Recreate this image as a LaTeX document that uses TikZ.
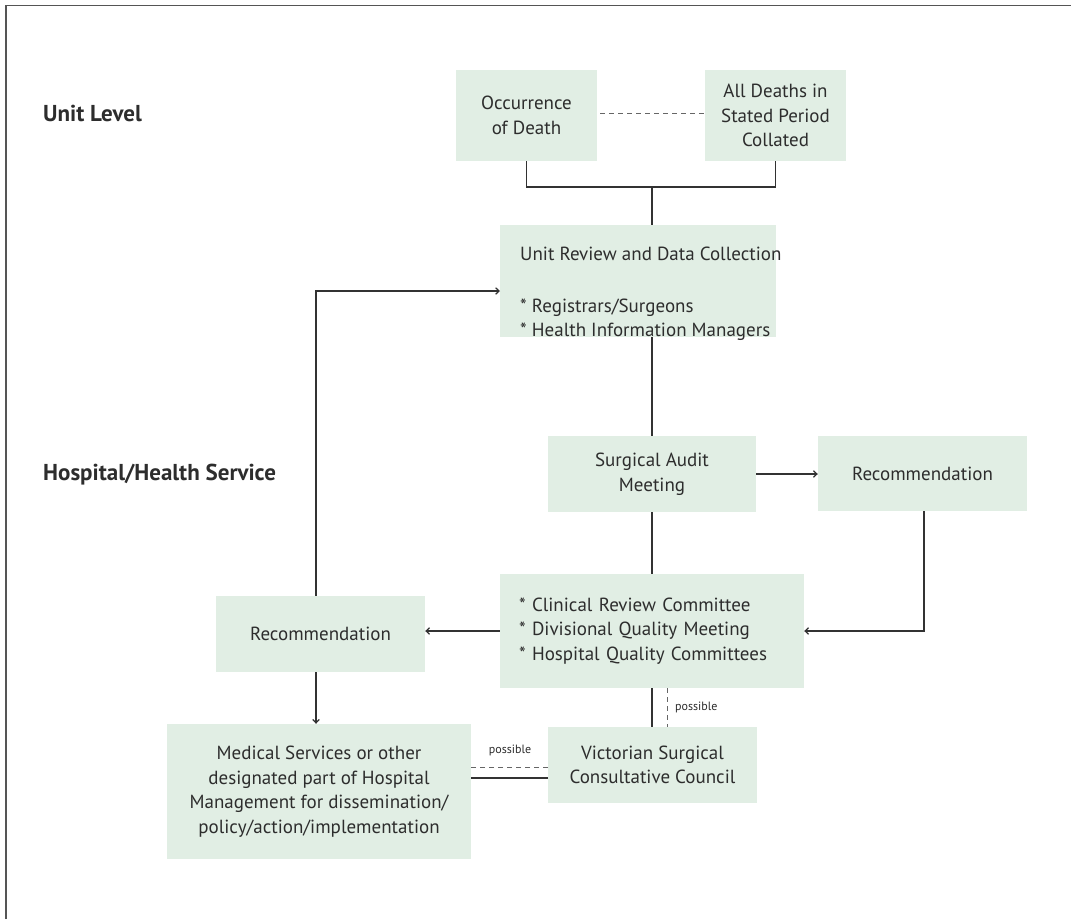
\documentclass[tikz,border=0pt]{standalone}
\usepackage{fontspec}
\setmainfont{PT Sans}
\usetikzlibrary{arrows.meta}
\definecolor{boxfill}{RGB}{225,238,228}
\definecolor{ink}{RGB}{45,45,45}
\definecolor{linec}{RGB}{50,50,50}
\definecolor{framec}{RGB}{85,85,85}
\begin{document}
\begin{tikzpicture}[x=1pt,y=-1pt,
  box/.style={fill=boxfill, draw=none, text=ink, align=center, inner sep=0pt,
    font=\fontsize{19}{24.5}\selectfont},
  conn/.style={draw=linec, line width=1.3pt},
  dconn/.style={draw=framec!90, line width=1pt, dash pattern=on 5pt off 4pt},
  arr/.style={conn, -{Straight Barb[length=3.5pt,width=6.5pt,line width=1.2pt]}},
  lvl/.style={anchor=base west, text=ink, font=\fontsize{23}{27}\selectfont\bfseries, inner sep=0pt},
  small/.style={text=ink, font=\fontsize{12}{14}\selectfont, inner sep=0pt}
]
\useasboundingbox (0,0) rectangle (1071,919);
\fill[white] (0,0) rectangle (1071,919);
% frame
\draw[framec, line width=1.6pt] (6,919) -- (6,5.5) -- (1071,5.5);

% level labels
\node[lvl] (ul) at (43,121) {Unit Level};
\node[lvl] (hl) at (43,480) {Hospital/Health Service};

% boxes
\node[box, minimum width=141, minimum height=91] (occ) at (526.5,115.5) {Occurrence\\of Death};
\node[box, minimum width=141, minimum height=91] (alld) at (775.5,115.5) {All Deaths in\\Stated Period\\Collated};
\node[box, minimum width=276, minimum height=112] (unit) at (638,281) {};
\node[anchor=north west, text=ink, align=left, inner sep=0pt,
  font=\fontsize{19}{24.5}\selectfont] (unittxt) at (520,247)
  {Unit Review and Data Collection\\[27pt]* Registrars/Surgeons\\{}* Health Information Managers};
\node[box, minimum width=208, minimum height=76] (audit) at (652,474) {Surgical Audit\\Meeting};
\node[box, minimum width=209, minimum height=75] (recR) at (922.5,473.5) {Recommendation};
\node[box, minimum width=304, minimum height=114, text width=266, align=left, inner xsep=19pt] (clin) at (652,631)
  {* Clinical Review Committee\\{}* Divisional Quality Meeting\\{}* Hospital Quality Committees};
\node[box, minimum width=209, minimum height=76] (recL) at (320.5,634) {Recommendation};
\node[box, minimum width=304, minimum height=135] (med) at (319,791.5)
  {Medical Services or other\\designated part of Hospital\\Management for dissemination/\\policy/action/implementation};
\node[box, minimum width=209, minimum height=76] (vic) at (652.5,765) {Victorian Surgical\\Consultative Council};

% connectors
\draw[dconn] ([yshift=2.5pt,xshift=3pt]occ.east) -- ([yshift=2.5pt]alld.west);
\coordinate (j) at (652,187);
\draw[conn] (occ.south) |- (j) -| (alld.south);
\draw[conn] (j) -- (j |- unit.north);
\draw[conn] (unit.south -| audit.north) -- (audit.north);
\draw[arr] (audit.east) -- (audit.east -| recR.west);
\draw[arr] ([xshift=1.5pt]recR.south) |- (clin.east);
\draw[conn] (audit.south) -- (clin.north);
\draw[arr] (clin.west) -- (clin.west -| recL.east);
\coordinate (ua) at (500,291);
\draw[arr] ([xshift=-4.5pt]recL.north) |- (ua);
\draw[arr] ([xshift=-4.5pt]recL.south) -- ([xshift=-4.5pt]recL.south |- med.north);
\draw[conn] (clin.south) -- (clin.south |- vic.north);
\draw[dconn] ([xshift=15pt]clin.south) -- ([xshift=15pt]clin.south |- vic.north);
\node[small, anchor=west] (p1) at (675,707) {possible};
\coordinate (vs) at (548,778);
\coordinate (vd) at (548,767);
\draw[conn] (vs) -- (vs -| med.east);
\draw[dconn] (vd) -- (vd -| med.east);
\node[small] (p2) at (510,750) {possible};
\end{tikzpicture}
\end{document}
